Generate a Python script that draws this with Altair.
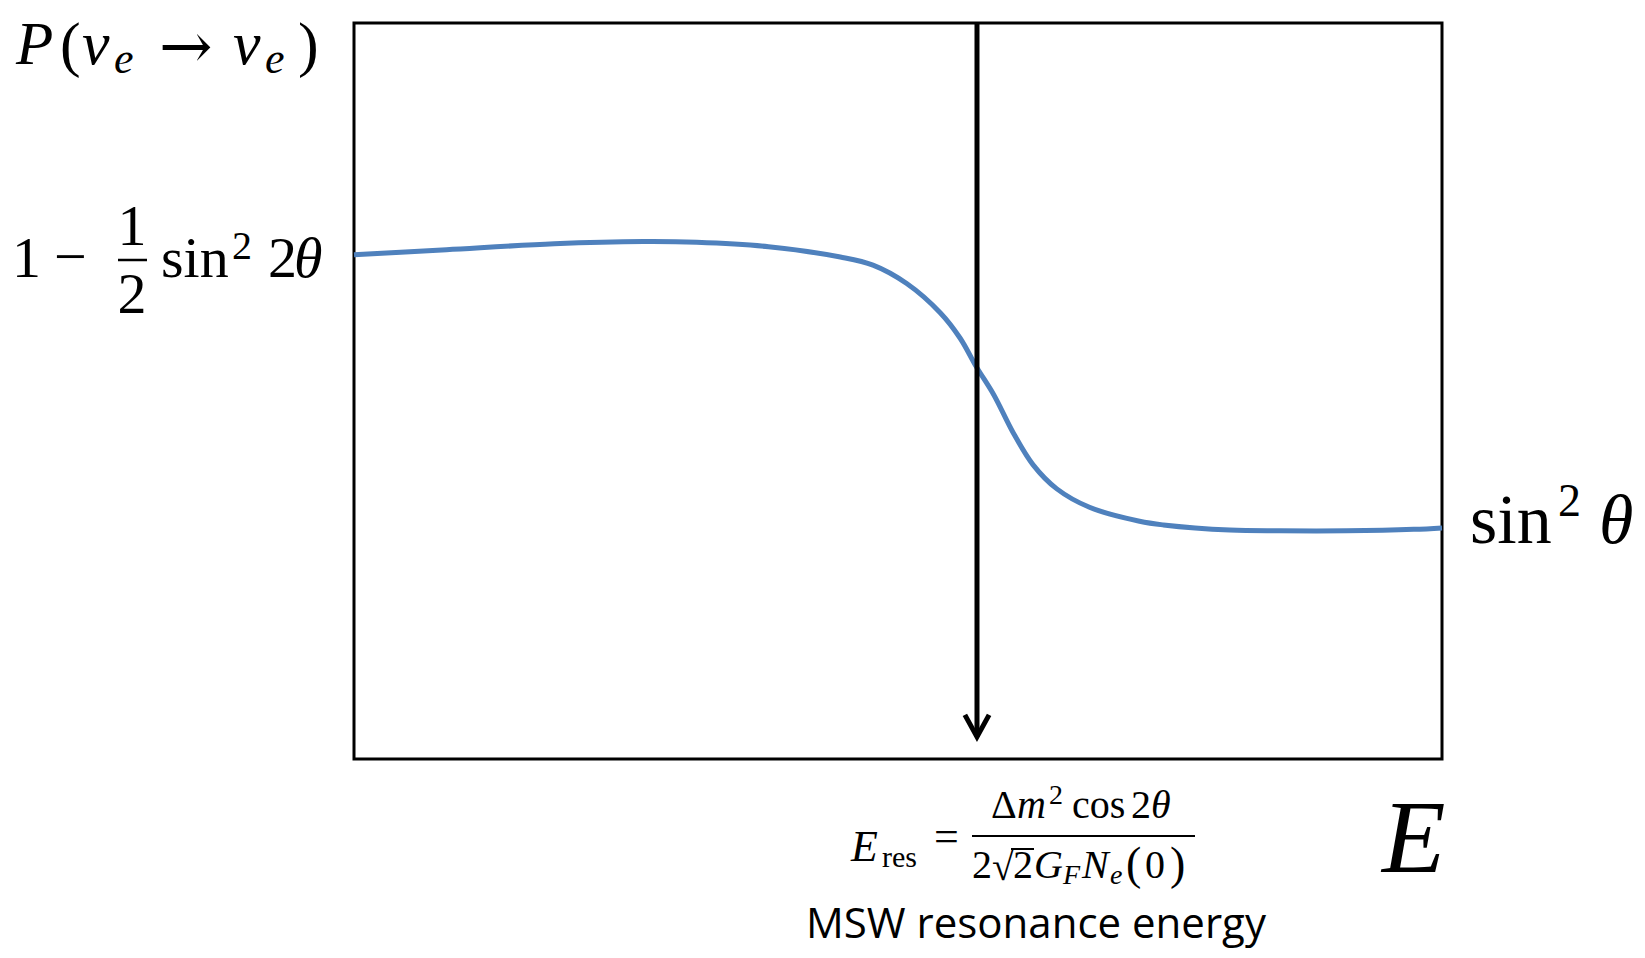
import altair as alt
import pandas as pd

# ---- data (E in arbitrary units 0..1, P in 0..1) ----
energy = [0.000, 0.085, 0.184, 0.266, 0.315, 0.381, 0.447, 0.477, 0.508, 0.539,
          0.557, 0.572, 0.588, 0.606, 0.624, 0.646, 0.676, 0.722, 0.744, 0.805,
          0.851, 0.912, 0.974, 1.000]
prob = [0.685, 0.692, 0.700, 0.703, 0.702, 0.696, 0.682, 0.671, 0.646, 0.606,
        0.572, 0.533, 0.495, 0.443, 0.400, 0.367, 0.342, 0.323, 0.318, 0.311,
        0.310, 0.310, 0.312, 0.314]
e_res = [0.5726]
arrow_top = [1.0]
arrow_tip = [0.030]

curve_df = pd.DataFrame({"E": energy, "P": prob})
arrow_df = pd.DataFrame({"E": e_res, "top": arrow_top, "tip": arrow_tip})
one = pd.DataFrame({"k": [0]})

W, H = 1088, 736
OX, OY = 354, 23          # page position of the plot origin
SERIF = "Liberation Serif"

xs = alt.Scale(domain=[0, 1], nice=False, zero=False)
ys = alt.Scale(domain=[0, 1], nice=False, zero=False)

curve = alt.Chart(curve_df).mark_line(
    color="#4F81BD", strokeWidth=5, interpolate="catmull-rom", strokeCap="butt"
).encode(
    x=alt.X("E:Q", scale=xs, axis=None),
    y=alt.Y("P:Q", scale=ys, axis=None),
)

arrow_line = alt.Chart(arrow_df).mark_rule(color="black", strokeWidth=5).encode(
    x=alt.X("E:Q", scale=xs, axis=None),
    y=alt.Y("top:Q", scale=ys, axis=None),
    y2="tip:Q",
)

arrow_head = alt.Chart(arrow_df).mark_point(
    shape="M-0.55,-1L0,0L0.55,-1", size=1936, filled=False,
    stroke="black", strokeWidth=5, opacity=1, strokeJoin="miter"
).encode(
    x=alt.X("E:Q", scale=xs, axis=None),
    y=alt.Y("tip:Q", scale=ys, axis=None),
)


def piece(text, x, y, size, italic=False, font=SERIF, align="left"):
    return alt.Chart(one).mark_text(
        text=text, font=font, fontSize=size,
        fontStyle="italic" if italic else "normal",
        align=align, baseline="alphabetic", color="black",
    ).encode(x=alt.value(x - OX), y=alt.value(y - OY))


def bar(x1, x2, y, w=2.5):
    return alt.Chart(one).mark_rule(color="black", strokeWidth=w).encode(
        x=alt.value(x1 - OX), x2=alt.value(x2 - OX), y=alt.value(y - OY)
    )


texts = [
    # P(nu_e -> nu_e)
    piece("P", 16, 64, 61, True),
    piece("(", 60, 65, 62),
    piece("ν", 82, 64, 62, True),
    piece("e", 114, 73, 44, True),
    piece("→", 159, 68, 64, font="DejaVu Serif"),
    piece("ν", 233, 64, 62, True),
    piece("e", 265, 73, 44, True),
    piece(")", 298, 65, 62),
    # 1 - 1/2 sin^2 2theta
    piece("1", 12, 277, 58),
    piece("−", 54, 276, 58),
    piece("1", 132, 245, 58, align="center"),
    piece("2", 132, 313, 58, align="center"),
    piece("sin", 161, 277, 58),
    piece("2", 232, 259, 40),
    piece("2", 268, 277, 58),
    piece("θ", 294, 277, 58, True),
    # sin^2 theta
    piece("sin", 1470, 543, 70),
    piece("2", 1558, 516, 46),
    piece("θ", 1599, 543, 70, True),
    # E axis label
    piece("E", 1382, 872, 104, True),
    # E_res formula
    piece("E", 851, 861, 44, True),
    piece("res", 882, 867, 30),
    piece("=", 934, 851, 44),
    piece("Δ", 991, 818, 40),
    piece("m", 1017, 818, 40, True),
    piece("2", 1049, 804, 28),
    piece("cos", 1072, 818, 40),
    piece("2", 1131, 818, 40),
    piece("θ", 1151, 818, 40, True),
    piece("2", 972, 878, 40),
    piece("√", 992, 880, 40),
    piece("2", 1013, 878, 40),
    piece("G", 1034, 878, 40, True),
    piece("F", 1063, 884, 28, True),
    piece("N", 1082, 878, 40, True),
    piece("e", 1110, 884, 28, True),
    piece("(", 1126, 879, 46),
    piece("0", 1145, 878, 40),
    piece(")", 1170, 879, 46),
    # caption
    piece("MSW resonance energy", 1036, 938, 42, font="Open Sans", align="center"),
]

bars = [
    bar(118, 147, 260, 2.5),
    bar(972, 1195, 836, 2),
    bar(1011, 1034, 849, 2),
]

chart = alt.layer(curve, arrow_line, arrow_head, *texts, *bars).properties(
    width=W, height=H,
    padding={"left": 346, "top": 15, "right": 195, "bottom": 191},
    autosize=alt.AutoSizeParams(type="none"),
    background="white",
).configure_view(stroke="black", strokeWidth=3, fill="white")

chart.save("out.html", embed_options={"renderer": "svg", "actions": False})
